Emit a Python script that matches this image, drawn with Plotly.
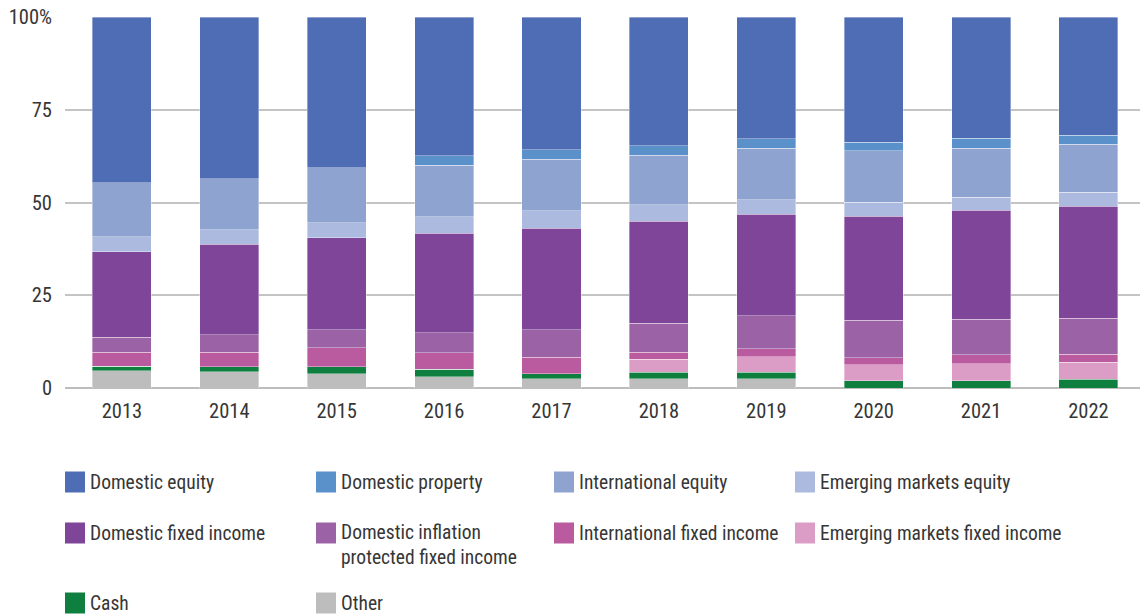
import plotly.graph_objects as go

years = ["2013", "2014", "2015", "2016", "2017", "2018", "2019", "2020", "2021", "2022"]

other = [4.7, 4.4, 3.9, 3.0, 2.5, 2.5, 2.5, 0.0, 0.0, 0.0]
cash = [1.1, 1.3, 1.8, 2.0, 1.4, 1.7, 1.7, 2.0, 2.0, 2.3]
em_fixed = [0.0, 0.0, 0.0, 0.0, 0.0, 3.6, 4.2, 4.3, 4.6, 4.6]
intl_fixed = [3.8, 4.0, 5.1, 4.5, 4.4, 1.9, 2.2, 1.9, 2.3, 2.2]
dom_infl = [4.1, 4.7, 4.9, 5.4, 7.4, 7.8, 8.9, 10.0, 9.6, 9.7]
dom_fixed = [23.0, 24.4, 24.8, 26.8, 27.3, 27.5, 27.3, 28.1, 29.4, 30.2]
em_equity = [4.1, 3.9, 4.1, 4.5, 4.8, 4.4, 4.0, 3.8, 3.5, 3.8]
intl_equity = [14.5, 13.7, 14.8, 13.9, 13.9, 13.4, 13.8, 13.8, 13.2, 12.9]
dom_property = [0.0, 0.0, 0.0, 2.5, 2.5, 2.5, 2.6, 2.4, 2.7, 2.4]
dom_equity = [44.7, 43.6, 40.6, 37.4, 35.8, 34.7, 32.8, 33.7, 32.7, 31.9]

y_ticks = [0, 25, 50, 75, 100]
y_tick_labels = ["0", "25", "50", "75", "100%"]

# stacking order bottom -> top
series = [
    ("Other", other, "#BDBDBD"),
    ("Cash", cash, "#0E7F3E"),
    ("Emerging markets fixed income", em_fixed, "#DB9DC6"),
    ("International fixed income", intl_fixed, "#BA5BA0"),
    ("Domestic inflation protected fixed income", dom_infl, "#9C62A6"),
    ("Domestic fixed income", dom_fixed, "#7F4598"),
    ("Emerging markets equity", em_equity, "#ADBADF"),
    ("International equity", intl_equity, "#8FA3D1"),
    ("Domestic property", dom_property, "#5B91CA"),
    ("Domestic equity", dom_equity, "#4F6DB5"),
]

FONT = "Roboto Condensed, Liberation Sans Narrow, DejaVu Sans Condensed, Roboto, sans-serif"
TXT = "#363636"

fig = go.Figure()
for name, vals, col in series:
    fig.add_trace(go.Bar(
        x=years, y=vals, name=name,
        marker=dict(color=col, line=dict(color="rgba(255,255,255,0.45)", width=0.8)),
        showlegend=False,
    ))

W, H = 1146, 616
L, R, T, B = 65, 6, 17, 228
pw = W - L - R
ph = H - T - B

def px_x(px):
    return (px - L) / pw

def px_y(py):
    return (H - B - py) / ph

# Custom legend layout (4 columns)
legend_items = [
    ("Domestic equity", "#4F6DB5", 65, 482, None),
    ("Domestic property", "#5B91CA", 316, 482, None),
    ("International equity", "#8FA3D1", 554, 482, None),
    ("Emerging markets equity", "#ADBADF", 795, 482, None),
    ("Domestic fixed income", "#7F4598", 65, 533, None),
    ("Domestic inflation<br>protected fixed income", "#9C62A6", 316, 533, "top"),
    ("International fixed income", "#BA5BA0", 554, 533, None),
    ("Emerging markets fixed income", "#DB9DC6", 795, 533, None),
    ("Cash", "#0E7F3E", 65, 603, None),
    ("Other", "#BDBDBD", 316, 603, None),
]

shapes = []
annotations = []
for label, col, x0, yc, mode in legend_items:
    shapes.append(dict(
        type="rect", xref="paper", yref="paper",
        x0=px_x(x0), x1=px_x(x0 + 20), y0=px_y(yc + 10.5), y1=px_y(yc - 10.5),
        fillcolor=col, line=dict(width=0),
    ))
    if mode == "top":
        annotations.append(dict(
            xref="paper", yref="paper", x=px_x(x0 + 23), y=px_y(yc - 14),
            text=label, showarrow=False, xanchor="left", yanchor="top", align="left",
            font=dict(family=FONT, size=19.5, color=TXT),
        ))
    else:
        annotations.append(dict(
            xref="paper", yref="paper", x=px_x(x0 + 23), y=px_y(yc),
            text=label, showarrow=False, xanchor="left", yanchor="middle", align="left",
            font=dict(family=FONT, size=19.5, color=TXT),
        ))

fig.update_layout(
    barmode="stack",
    bargap=0.45,
    width=W, height=H,
    margin=dict(l=L, r=R, t=T, b=B, pad=0),
    paper_bgcolor="white",
    plot_bgcolor="white",
    font=dict(family=FONT, size=20, color=TXT),
    showlegend=False,
    shapes=shapes,
    annotations=annotations,
    xaxis=dict(
        type="category",
        range=[-0.53, 9.48],
        showgrid=False, showline=False, zeroline=False,
        ticks="", tickfont=dict(family=FONT, size=20.5, color=TXT),
        ticklabelstandoff=8,
    ),
    yaxis=dict(
        range=[0, 100],
        tickvals=y_ticks, ticktext=y_tick_labels,
        showgrid=True, gridcolor="#C4C4C4", gridwidth=1.5,
        zeroline=True, zerolinecolor="#BDBDBD", zerolinewidth=2,
        showline=False, ticks="",
        tickfont=dict(family=FONT, size=20.5, color=TXT),
        ticklabelstandoff=12,
    ),
)

fig.write_html(
    "out.html",
    config={"displayModeBar": False},
    post_script="document.body.style.margin='0px';document.body.style.overflow='hidden';",
)
